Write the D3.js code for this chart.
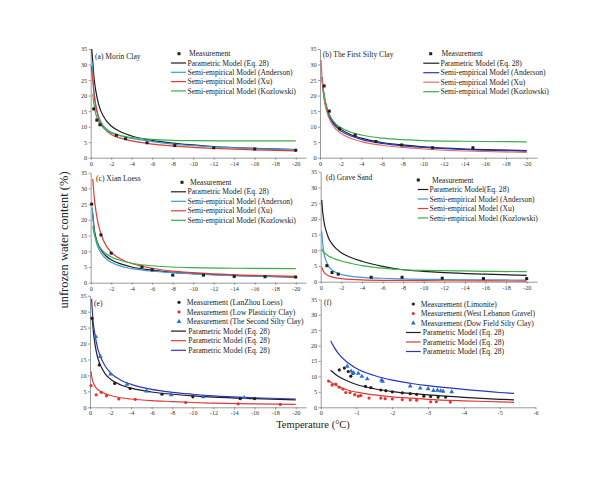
<!DOCTYPE html>
<html>
<head>
<meta charset="utf-8">
<script src="https://cdn.jsdelivr.net/npm/d3@7"></script>
<style>
  body { margin: 0; background: #fff; }
  svg { display: block; }
  text { font-family: "Liberation Serif", "Times New Roman", serif; fill: #222; }
</style>
</head>
<body>
<svg id="chart" width="600" height="480"></svg>
<script>
// ---- data: [temperature °C, unfrozen water content %] ----

// (a) Morin Clay
const aMeas = [[-0.3,15.7],[-0.6,12.1],[-0.9,10.6],[-2.5,7.2],[-3.4,6.1],[-5.5,4.8],[-8.2,3.9],[-12,3.2],[-16,2.8],[-20,2.4]];
const aParam = [[-0.1,35],[-0.2,31],[-0.35,25],[-0.5,21.5],[-0.75,17.5],[-1,15],[-1.5,12],[-2,10.2],[-3,8.2],[-4,7],[-6,5.6],[-8,4.7],[-10,4.1],[-12,3.6],[-16,3],[-20,2.6]];
const aAnderson = [[-0.15,31],[-0.3,22],[-0.5,17],[-0.75,13.5],[-1,11.5],[-1.5,9.4],[-2,8.2],[-3,7],[-4,6.2],[-6,5.2],[-8,4.4],[-10,3.9],[-12,3.5],[-16,2.9],[-20,2.6]];
const aXu = [[-0.05,29.5],[-0.2,25],[-0.35,20],[-0.5,16.5],[-0.75,13],[-1,11],[-1.5,8.8],[-2,7.5],[-3,6.2],[-4,5.4],[-6,4.4],[-8,3.8],[-10,3.3],[-12,3],[-16,2.5],[-20,2.2]];
const aKozlowski = [[-0.2,20.5],[-0.35,16.5],[-0.5,14],[-0.75,11.8],[-1,10.5],[-1.5,8.9],[-2,8],[-3,7],[-4,6.5],[-6,5.9],[-8,5.6],[-10,5.5],[-14,5.4],[-20,5.4]];

// (b) The First Silty Clay
const bMeas = [[-0.4,23.1],[-0.9,15],[-1.9,9.3],[-3.4,7.3],[-5.4,5.2],[-7.9,4.1],[-10.9,3.2],[-14.8,3.2]];
const bParam = [[-0.2,26],[-0.35,21],[-0.5,18],[-0.75,15],[-1,13],[-1.5,10.6],[-2,9.2],[-3,7.4],[-4,6.3],[-6,4.9],[-8,4.1],[-10,3.5],[-12,3.1],[-16,2.6],[-20,2.3]];
const bAnderson = [[-0.2,25],[-0.35,20.5],[-0.5,17.5],[-0.75,14.5],[-1,12.5],[-1.5,10.1],[-2,8.7],[-3,7],[-4,5.9],[-6,4.6],[-8,3.8],[-10,3.3],[-12,2.9],[-16,2.4],[-20,2.1]];
const bXu = [[-0.1,31.5],[-0.2,25.5],[-0.35,20],[-0.5,17],[-0.75,13.8],[-1,11.8],[-1.5,9.3],[-2,7.9],[-3,6.2],[-4,5.2],[-6,4],[-8,3.3],[-10,2.8],[-12,2.4],[-16,2],[-20,1.7]];
const bKozlowski = [[-0.3,22.5],[-0.5,18.5],[-0.75,15.3],[-1,13.3],[-1.5,11],[-2,9.7],[-3,8.2],[-4,7.3],[-6,6.3],[-8,5.8],[-10,5.5],[-14,5.3],[-20,5.1]];

// (c) Xian Loess
const cMeas = [[-0.1,25],[-1,15.2],[-2,9.4],[-5,5],[-6,4.1],[-8,2.4],[-11,2.4],[-14,2],[-17,1.9],[-20,1.8]];
const cParam = [[-0.2,22],[-0.35,17],[-0.5,14.5],[-0.75,12],[-1,10.5],[-1.5,8.5],[-2,7.3],[-3,5.9],[-4,5],[-6,4],[-8,3.3],[-10,2.9],[-12,2.6],[-16,2.1],[-20,1.8]];
const cAnderson = [[-0.15,24],[-0.3,17.5],[-0.5,13.5],[-0.75,11],[-1,9.5],[-1.5,7.6],[-2,6.5],[-3,5.2],[-4,4.5],[-6,3.7],[-8,3.2],[-10,2.8],[-12,2.5],[-16,2.1],[-20,1.9]];
const cXu = [[-0.2,33],[-0.35,27],[-0.5,23],[-0.75,18.5],[-1,15.5],[-1.5,11.8],[-2,9.7],[-3,7.4],[-4,6.1],[-6,4.6],[-8,3.7],[-10,3.2],[-12,2.8],[-16,2.3],[-20,2]];
const cKozlowski = [[-0.2,18],[-0.35,15.5],[-0.5,14],[-0.75,12],[-1,10.8],[-1.5,9.2],[-2,8.2],[-3,7],[-4,6.2],[-6,5.4],[-8,5],[-10,4.8],[-14,4.6],[-20,4.5]];

// (d) Grave Sand
const dMeas = [[-0.6,5.1],[-1.1,2.9],[-1.7,2.4],[-4.9,1.4],[-7.9,1.4],[-11.8,1.1],[-15.8,1],[-20,1]];
const dParam = [[-0.1,26],[-0.2,22],[-0.35,18.5],[-0.5,16.5],[-0.75,14],[-1,12.5],[-1.5,10.5],[-2,9.2],[-3,7.6],[-4,6.5],[-6,4.9],[-8,3.8],[-10,3.3],[-12,2.9],[-16,2.4],[-20,2]];
const dAnderson = [[-0.1,16],[-0.2,12],[-0.35,8.5],[-0.5,6.8],[-0.75,5],[-1,4],[-1.5,2.9],[-2,2.3],[-3,1.7],[-4,1.4],[-6,1.1],[-8,0.9],[-12,0.7],[-16,0.6],[-20,0.5]];
const dXu = [[-0.1,4.6],[-0.2,3.7],[-0.35,2.9],[-0.5,2.4],[-0.75,1.9],[-1,1.6],[-1.5,1.2],[-2,1],[-3,0.75],[-4,0.6],[-6,0.45],[-8,0.4],[-12,0.3],[-20,0.2]];
const dKozlowski = [[-0.1,10.5],[-0.2,9.8],[-0.35,9.2],[-0.5,8.8],[-0.75,8.2],[-1,7.8],[-1.5,7.1],[-2,6.6],[-3,5.8],[-4,5.1],[-6,4.3],[-8,3.8],[-10,3.6],[-12,3.5],[-16,3.3],[-20,3.2]];

// (e) three soils, parametric model only
const eMeasLanzhou = [[-0.2,27.9],[-0.9,13.3],[-2.4,7.5],[-3.9,5.9],[-7,4.1],[-10,3.3],[-14.6,2.7],[-16,2.7]];
const eMeasLowPlast = [[-0.1,6.8],[-0.6,3.9],[-1.1,4.7],[-1.6,3.6],[-2.8,2.6],[-4.4,2.5],[-9.3,1.5],[-14.4,1.1],[-18.5,0.9]];
const eMeasSecond = [[-0.55,22.2],[-1,15.9],[-2,10.4],[-3.6,7.2],[-5.5,5.1],[-7.9,3.9],[-11,3.3],[-15,3]];
const eParamLanzhou = [[-0.2,28.5],[-0.35,23],[-0.5,19.5],[-0.75,15.5],[-1,13.3],[-1.5,10.4],[-2,8.8],[-3,7],[-4,6],[-6,4.8],[-8,4.1],[-10,3.6],[-12,3.2],[-16,2.7],[-20,2.3]];
const eParamLowPlast = [[-0.1,11.3],[-0.2,9],[-0.35,7.5],[-0.5,6.5],[-0.75,5.6],[-1,5],[-1.5,4.2],[-2,3.7],[-3,3],[-4,2.6],[-6,2.1],[-8,1.8],[-10,1.5],[-12,1.3],[-16,1.1],[-20,0.9]];
const eParamSecond = [[-0.15,34],[-0.3,27],[-0.5,22.5],[-0.75,18.5],[-1,16],[-1.5,12.8],[-2,10.8],[-3,8.5],[-4,7.2],[-6,5.6],[-8,4.7],[-10,4.1],[-12,3.6],[-16,3],[-20,2.6]];

// (f) three soils, parametric model only
const fMeasLimonite = [[-0.52,12.1],[-0.66,12.7],[-0.77,11.6],[-0.84,10.1],[-0.9,11],[-1.25,6.8],[-1.4,6.4],[-1.68,5.6],[-1.82,5.4],[-2,5],[-2.28,4.7],[-2.5,4.4],[-2.68,4.2],[-2.88,3.6],[-3.07,3.5],[-3.28,3.3],[-3.49,3.3]];
const fMeasLebanon = [[-0.22,8.5],[-0.32,7.2],[-0.42,7.5],[-0.52,6.5],[-0.62,5.9],[-0.7,4.8],[-0.82,4.8],[-0.95,4.1],[-1.05,3.6],[-1.12,3.8],[-1.35,3],[-1.68,3],[-1.8,2.8],[-2,2.7],[-2.28,2.5],[-2.5,2.4],[-2.68,2.3],[-3.07,1.8],[-3.23,1.8],[-3.62,1.7]];
const fMeasDowField = [[-0.74,13.3],[-0.85,11.7],[-0.92,11.2],[-1.05,11],[-1.15,10],[-1.3,9.2],[-1.7,8.8],[-1.73,8.4],[-2.5,6.9],[-2.78,6.2],[-3,6],[-3.15,5.4],[-3.26,5.5],[-3.35,5.3],[-3.42,5.2],[-3.66,5]];
const fParamLimonite = [[-0.28,12],[-0.4,10.8],[-0.5,10],[-0.75,8.5],[-1,7.4],[-1.5,6],[-2,5.1],[-2.5,4.5],[-3,4],[-4,3.2],[-5,2.6],[-5.4,2.4]];
const fParamLebanon = [[-0.22,8.6],[-0.4,7.3],[-0.5,6.7],[-0.75,5.6],[-1,4.9],[-1.5,4],[-2,3.4],[-2.5,3],[-3,2.6],[-4,2.1],[-5,1.75],[-5.4,1.6]];
const fParamDowField = [[-0.28,21.5],[-0.4,19],[-0.5,17.3],[-0.75,14.5],[-1,12.6],[-1.5,10.3],[-2,8.8],[-2.5,7.8],[-3,7],[-4,5.8],[-5,4.8],[-5.4,4.5]];

// ticks
const yTicks = [0, 5, 10, 15, 20, 25, 30, 35];
const xTicksWide = [0, -2, -4, -6, -8, -10, -12, -14, -16, -18, -20];
const xTicksNarrow = [0, -1, -2, -3, -4, -5, -6];

// legend labels
const modelNames = ["Parametric Model (Eq. 28)", "Semi-empirical Model (Anderson)", "Semi-empirical Model (Xu)", "Semi-empirical Model (Kozlowski)"];
const dModelNames = ["Parametric Model(Eq. 28)", "Semi-empirical Model  (Anderson)", "Semi-empirical Model  (Xu)", "Semi-empirical Model  (Kozlowski)"];
const eMeasNames = ["Measurement (LanZhou Loess)", "Measurement (Low Plasticity Clay)", "Measurement (The Second Silty Clay)"];
const fMeasNames = ["Measurement (Limonite)", "Measurement (West Lebanon Gravel)", "Measurement (Dow Field Silty Clay)"];
const paramName = "Parametric Model (Eq. 28)";

// ---- styles ----
const BLACK = "#1e1e1e", LBLUE = "#3f9ad8", DBLUE = "#2a36c0", RED = "#e23a36", PINK = "#e46a6a", GREEN = "#3aae48";
const MRED = "#e8322e", MBLUE = "#2a6fd0";
const FONT = '"Liberation Serif", "Times New Roman", serif';

const svg = d3.select("#chart");

const panels = [
  { title: "(a) Morin Clay", tx: 95, ty: 56, x0: 90.7, x1: 306, xmax: -21, xTicks: xTicksWide, yb: 157.7, yt: 49, fs: 7.6,
    meas: [{ data: aMeas, shape: "square", color: BLACK, name: "Measurement" }],
    lines: [{ data: aParam, color: BLACK, name: modelNames[0] }, { data: aAnderson, color: LBLUE, name: modelNames[1] },
            { data: aXu, color: RED, name: modelNames[2] }, { data: aKozlowski, color: GREEN, name: modelNames[3] }],
    leg: { mx: 179, mtx: 189, lx0: 171, lx1: 186, ltx: 187.5, y0: 53.7, dy: 9.3 } },
  { title: "(b) The First Silty Clay", tx: 322.7, ty: 54, x0: 320, x1: 537, xmax: -21, xTicks: xTicksWide, yb: 157.7, yt: 49, fs: 7.6,
    meas: [{ data: bMeas, shape: "square", color: BLACK, name: "Measurement" }],
    lines: [{ data: bParam, color: BLACK, name: modelNames[0] }, { data: bAnderson, color: DBLUE, name: modelNames[1] },
            { data: bXu, color: PINK, name: modelNames[2] }, { data: bKozlowski, color: GREEN, name: modelNames[3] }],
    leg: { mx: 430.7, mtx: 441.5, lx0: 423.3, lx1: 439.3, ltx: 440.5, y0: 53.7, dy: 9.5 } },
  { title: "(c) Xian Loess", tx: 96, ty: 178, x0: 90.7, x1: 306, xmax: -21, xTicks: xTicksWide, yb: 282.7, yt: 172.7, fs: 7.6,
    meas: [{ data: cMeas, shape: "square", color: BLACK, name: "Measurement" }],
    lines: [{ data: cParam, color: BLACK, name: modelNames[0] }, { data: cAnderson, color: LBLUE, name: modelNames[1] },
            { data: cXu, color: RED, name: modelNames[2] }, { data: cKozlowski, color: GREEN, name: modelNames[3] }],
    leg: { mx: 182, mtx: 190, lx0: 171, lx1: 186, ltx: 187.5, y0: 182.3, dy: 9.5 } },
  { title: "(d) Grave Sand", tx: 326, ty: 177, x0: 320.7, x1: 537, xmax: -21, xTicks: xTicksWide, yb: 281.7, yt: 171.7, fs: 7.6,
    meas: [{ data: dMeas, shape: "square", color: BLACK, name: "Measurement" }],
    lines: [{ data: dParam, color: BLACK, name: dModelNames[0] }, { data: dAnderson, color: LBLUE, name: dModelNames[1] },
            { data: dXu, color: RED, name: dModelNames[2] }, { data: dKozlowski, color: GREEN, name: dModelNames[3] }],
    leg: { mx: 418.3, mtx: 432, lx0: 417.7, lx1: 428.3, ltx: 429.5, y0: 180, dy: 9.5 } },
  { title: "(e)", tx: 94, ty: 303, x0: 90, x1: 306, xmax: -21, xTicks: xTicksWide, yb: 407.3, yt: 295.7, fs: 7.6,
    meas: [{ data: eMeasLanzhou, shape: "circle", color: BLACK, name: eMeasNames[0] },
           { data: eMeasLowPlast, shape: "circle", color: MRED, name: eMeasNames[1] },
           { data: eMeasSecond, shape: "triangle", color: MBLUE, name: eMeasNames[2] }],
    lines: [{ data: eParamLanzhou, color: BLACK, name: paramName }, { data: eParamLowPlast, color: RED, name: paramName },
            { data: eParamSecond, color: DBLUE, name: paramName }],
    leg: { mx: 179, mtx: 186.7, lx0: 171, lx1: 186, ltx: 188.3, y0: 302.3, dy: 9.6 } },
  { title: "(f)", tx: 324, ty: 302, x0: 320.7, x1: 535.5, xmax: -6, xTicks: xTicksNarrow, yb: 407.3, yt: 299.3, fs: 7.6,
    meas: [{ data: fMeasLimonite, shape: "circle", color: BLACK, name: fMeasNames[0] },
           { data: fMeasLebanon, shape: "circle", color: MRED, name: fMeasNames[1] },
           { data: fMeasDowField, shape: "triangle", color: MBLUE, name: fMeasNames[2] }],
    lines: [{ data: fParamLimonite, color: BLACK, name: paramName }, { data: fParamLebanon, color: RED, name: paramName },
            { data: fParamDowField, color: DBLUE, name: paramName }],
    leg: { mx: 413.3, mtx: 420.7, lx0: 406, lx1: 420.7, ltx: 422.7, y0: 304, dy: 9.5 } }
];

function drawMarker(g, shape, color, cx, cy) {
  if (shape === "square") {
    g.append("rect").attr("x", cx - 1.5).attr("y", cy - 1.5).attr("width", 3).attr("height", 3).attr("fill", color);
  } else if (shape === "circle") {
    g.append("circle").attr("cx", cx).attr("cy", cy).attr("r", 1.6).attr("fill", color);
  } else {
    g.append("path").attr("d", d3.symbol(d3.symbolTriangle, 10)()).attr("transform", `translate(${cx},${cy})`).attr("fill", color);
  }
}

panels.forEach(p => {
  const g = svg.append("g");
  const x = d3.scaleLinear().domain([0, p.xmax]).range([p.x0, p.x1]);
  const y = d3.scaleLinear().domain([0, 35]).range([p.yb, p.yt]);

  // axes
  const xAxis = g.append("g").attr("transform", `translate(0,${p.yb})`)
    .call(d3.axisBottom(x).tickValues(p.xTicks).tickSize(2).tickSizeOuter(0).tickPadding(1.5).tickFormat(d => String(d)));
  const yAxis = g.append("g").attr("transform", `translate(${p.x0},0)`)
    .call(d3.axisLeft(y).tickValues(yTicks).tickSize(2).tickSizeOuter(0).tickPadding(1.5).tickFormat(d => String(d)));
  [xAxis, yAxis].forEach(a => {
    a.attr("font-family", null).attr("font-size", null);
    a.selectAll("text").style("font-family", FONT).style("font-size", "6.2px").style("fill", "#333");
    a.selectAll("line,path").attr("stroke", "#555").attr("stroke-width", 0.6);
  });

  // model curves
  const line = d3.line().curve(d3.curveMonotoneX).x(d => x(d[0])).y(d => y(d[1]));
  p.lines.forEach(l => {
    g.append("path").datum(l.data).attr("fill", "none").attr("stroke", l.color).attr("stroke-width", 1.2).attr("d", line);
  });

  // measurements
  p.meas.forEach(m => {
    m.data.forEach(d => drawMarker(g, m.shape, m.color, x(d[0]), y(d[1])));
  });

  // title
  g.append("text").attr("x", p.tx).attr("y", p.ty).attr("dy", "0.35em").style("font-size", p.fs + "px").text(p.title);

  // legend
  const L = p.leg;
  let row = 0;
  p.meas.forEach(m => {
    const ry = L.y0 + row * L.dy;
    drawMarker(g, m.shape, m.color, L.mx, ry);
    g.append("text").attr("x", L.mtx).attr("y", ry).attr("dy", "0.35em").style("font-size", p.fs + "px").text(m.name);
    row++;
  });
  p.lines.forEach(l => {
    const ry = L.y0 + row * L.dy;
    g.append("line").attr("x1", L.lx0).attr("x2", L.lx1).attr("y1", ry).attr("y2", ry)
      .attr("stroke", l.color).attr("stroke-width", 1.2);
    g.append("text").attr("x", L.ltx).attr("y", ry).attr("dy", "0.35em").style("font-size", p.fs + "px").text(l.name);
    row++;
  });
});

// shared axis titles
svg.append("text").attr("transform", "translate(68,240) rotate(-90)").attr("text-anchor", "middle")
  .style("font-size", "12.5px").text("unfrozen water content (%)");
svg.append("text").attr("x", 313).attr("y", 428).attr("text-anchor", "middle")
  .style("font-size", "10.5px").text("Temperature (°C)");
</script>
</body>
</html>
